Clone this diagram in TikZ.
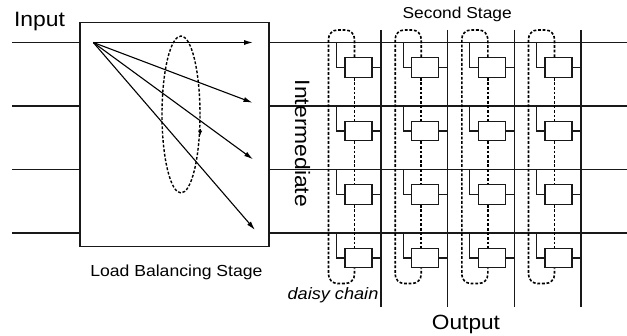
\documentclass[tikz,border=0pt]{standalone}
\usepackage{fontspec}
\setmainfont{Liberation Sans}
\usetikzlibrary{arrows.meta,shapes.geometric}
% slightly widened lettering
\newcommand\sx[1]{\scalebox{1.1}[1]{#1}}
\begin{document}
\begin{tikzpicture}[x=1pt,y=-1pt,
  wire/.style={line width=1.2pt,draw=black!90},
  frame/.style={draw=black!90,line width=1.3pt,fill=white,inner sep=0pt},
  cell/.style={frame,rectangle,minimum width=27pt,minimum height=19.5pt},
  chain/.style={draw=black,line width=1.6pt,dash pattern=on 2.8pt off 1.8pt},
  fan/.style={line width=1.1pt,-{Latex[length=9pt,width=5pt]}},
  lbl/.style={inner sep=0pt,text=black}]
\useasboundingbox (0,0) rectangle (627,336);

% load balancing stage
\node[frame,rectangle,minimum width=189pt,minimum height=224pt] (lb) at (174.5,134.7) {};

% input and intermediate rows
\foreach \r/\Y in {1/42.5,2/106,3/169.5,4/233} {
  \coordinate (in\r) at (12,\Y);
  \coordinate (out\r) at (627,\Y);
  \draw[wire] (in\r) -- (in\r -| lb.west);
  \draw[wire] (lb.east |- out\r) -- (out\r);
}

% output columns
\foreach \c/\X in {1/381,2/447.7,3/514.3,4/581} {
  \coordinate (vt\c) at (\X,30);
  \coordinate (vb\c) at (\X,307);
  \draw[wire] (vt\c) -- (vb\c);
}

% fan-out arrows inside the first stage
\coordinate (src) at (93.3,42.5);
\coordinate (a1) at (253,42.5);
\coordinate (a2) at (252.5,102.7);
\coordinate (a3) at (253,159.3);
\coordinate (a4) at (255,230);
\foreach \k in {1,2,3,4} \draw[fan] (src) -- (a\k);

% rotating selector
\node[ellipse,chain,line width=1.4pt,minimum width=38pt,minimum height=157pt,inner sep=0pt] (ell) at (181,114.5) {};
\draw[line width=1.2pt,-{Latex[length=5pt,width=4.5pt]}] ([yshift=5pt]ell.-45) -- ([yshift=-2pt]ell.-45);

% second stage: daisy-chained cells
\foreach \c/\X in {1/381,2/447.7,3/514.3,4/581} {
  \foreach \r/\Y in {1/42.5,2/106,3/169.5,4/233} {
    \node[cell] (b\c\r) at (\X-22.5,\Y+25) {};
    \coordinate (t\c\r) at (\X-44.5,\Y);
    \draw[wire] (b\c\r.west) -| (t\c\r);
    \draw[wire] (b\c\r.east) -- (b\c\r.east -| vt\c);
  }
  \coordinate (u\c) at (\X-26.5,30);
  \coordinate (l\c) at (\X-52.5,30);
  \coordinate (m\c) at (\X-52.5,283.5);
  \coordinate (n\c) at (\X-26.5,283.5);
  \draw[chain,rounded corners=9pt] ([xshift=-4pt]b\c1.north) -- (u\c) -- (l\c) -- (m\c) -- (n\c) -- ([xshift=-4pt]b\c4.south);
  \draw[chain] ([xshift=-4pt]b\c1.south) -- ([xshift=-4pt]b\c2.north);
  \draw[chain] ([xshift=-4pt]b\c2.south) -- ([xshift=-4pt]b\c3.north);
  \draw[chain] ([xshift=-4pt]b\c3.south) -- ([xshift=-4pt]b\c4.north);
}

% labels
\node[lbl,anchor=base,font=\fontsize{20.8}{24}\selectfont] (tin) at (39.5,26.7) {\sx{Input}};
\node[lbl,anchor=base,font=\fontsize{16}{19}\selectfont] (tlb) at (176.4,276.7) {\sx{Load Balancing Stage}};
\node[lbl,anchor=base,font=\fontsize{15.8}{19}\selectfont] (tss) at (457.2,18.3) {\sx{Second Stage}};
\node[lbl,anchor=base,font=\fontsize{20.6}{24}\selectfont] (tout) at (466,330) {\sx{Output}};
\node[lbl,anchor=base,font=\fontsize{16.5}{19}\selectfont\itshape] (tdc) at (333,299.5) {\sx{daisy chain}};
\node[lbl,rotate=-90,font=\fontsize{20.8}{24}\selectfont] (tim) at (302.5,143.5) {\sx{Intermediate}};
\end{tikzpicture}
\end{document}
